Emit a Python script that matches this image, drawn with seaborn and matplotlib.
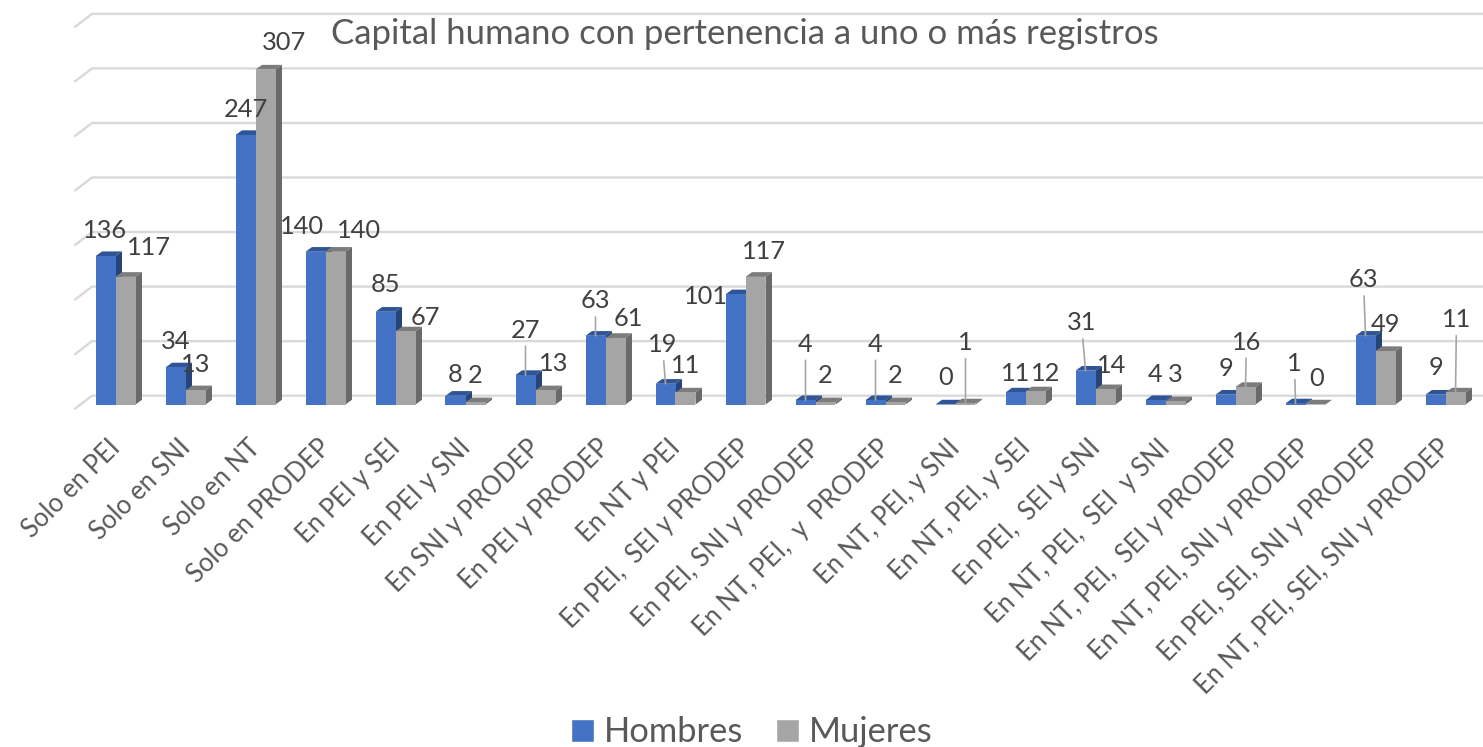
import pandas as pd
import matplotlib
matplotlib.use('Agg')
import matplotlib.pyplot as plt
from matplotlib.transforms import ScaledTranslation
import seaborn as sns

categorias = ['Solo en PEI', 'Solo en SNI', 'Solo en NT', 'Solo en PRODEP', 'En PEI y SEI', 'En PEI y SNI',
              'En SNI y PRODEP', 'En PEI y PRODEP', 'En NT y PEI', 'En PEI,  SEI y PRODEP', 'En PEI, SNI y PRODEP',
              'En NT, PEI,  y  PRODEP', 'En NT, PEI, y SNI', 'En NT, PEI, y SEI', 'En PEI,  SEI y SNI',
              'En NT, PEI,  SEI  y SNI', 'En NT, PEI,  SEI y PRODEP', 'En NT, PEI, SNI y PRODEP',
              'En PEI, SEI, SNI y PRODEP', 'En NT, PEI, SEI, SNI y PRODEP']
hombres = [136, 34, 247, 140, 85, 8, 27, 63, 19, 101, 4, 4, 0, 11, 31, 4, 9, 1, 63, 9]
mujeres = [117, 13, 307, 140, 67, 2, 13, 61, 11, 117, 2, 2, 1, 12, 14, 3, 16, 0, 49, 11]
marcas_y = [0, 50, 100, 150, 200, 250, 300, 350]

# desplazamiento de cada etiqueta respecto a la barra, en pixeles
offs_h = [(0, 28), (0, 28), (0, 28), (-13, 27), (0, 29), (0, 23), (0, 47), (0, 37), (-3, 41), (-30, 0),
          (0, 58), (0, 58), (0, 29), (0, 21), (-4, 50), (0, 28), (0, 28), (-1, 42), (-2, 58), (0, 29)]
offs_m = [(23, 31), (0, 28), (18, 29), (24, 23), (20, 16), (0, 29), (8, 29), (13, 21), (0, 29), (8, 27),
          (0, 29), (0, 29), (0, 63), (10, 20), (6, 26), (0, 29), (1, 47), (1, 28), (0, 29), (1, 75)]
# etiquetas que llevan linea guia
guias_h = [6, 7, 8, 10, 11, 14, 17, 18]
guias_m = [12, 16, 19]

W, H = 1483, 747
PX_X = 70.0      # pixeles entre categorias
PX_Y = 1.091     # pixeles por unidad
BASE = 404.5
IZQ = 75

sns.set_style('white')
plt.rcParams['font.family'] = ['Lato', 'DejaVu Sans']

df = pd.DataFrame({'categoria': categorias * 2,
                   'valor': hombres + mujeres,
                   'sexo': ['Hombres'] * len(hombres) + ['Mujeres'] * len(mujeres)})

fig = plt.figure(figsize=(W / 100, H / 100), dpi=100)
ax = fig.add_axes([IZQ / W, (H - BASE) / H, (W - IZQ) / W, BASE / H])

sns.barplot(data=df, x='categoria', y='valor', hue='sexo', palette=['#4472C4', '#A5A5A5'],
            width=40 / PX_X, gap=0, dodge=True, saturation=1, errorbar=None, ax=ax)

ax.set_xlim((IZQ - 115.5) / PX_X, (W - 115.5) / PX_X)
ax.set_ylim(0, BASE / PX_Y)
sns.despine(ax=ax, left=True, bottom=True)

# lineas de la pared del fondo
fondo_y = 8.8 / PX_Y
for v in marcas_y:
    x0 = (92 - 115.5) / PX_X
    ax.plot([(IZQ - 115.5) / PX_X, x0, ax.get_xlim()[1]],
            [v + fondo_y - 13 / PX_Y, v + fondo_y, v + fondo_y],
            color='#d9d9d9', lw=1.7, zorder=1, clip_on=False, solid_joinstyle='miter')

# caras superior y lateral de las barras
dx = 6.5 / PX_X
dy = 4.7 / PX_Y
estilos = [('#2F5597', '#264478', 3, 4), ('#7C7C7C', '#6A6A6A', 3.5, 5)]
for cont, (c_top, c_side, z, z_frente) in zip(ax.containers, estilos):
    for bar in cont:
        x0 = bar.get_x()
        x1 = x0 + bar.get_width()
        h = bar.get_height()
        bar.set_zorder(z_frente)
        bar.set_linewidth(0)
        ax.fill([x0, x1, x1 + dx, x0 + dx], [h, h, h + dy, h + dy], color=c_top, lw=0, zorder=z)
        ax.fill([x1, x1 + dx, x1 + dx, x1], [0, dy, h + dy, h], color=c_side, lw=0, zorder=z)

# etiquetas de datos
for cont, vals, offs, guias in zip(ax.containers, [hombres, mujeres], [offs_h, offs_m], [guias_h, guias_m]):
    for i, (bar, v, (ox, oy)) in enumerate(zip(cont, vals, offs)):
        props = None
        if i in guias:
            props = dict(arrowstyle='-', color='#a6a6a6', lw=1.2, shrinkA=1, shrinkB=0)
        ax.annotate(str(v), xy=(bar.get_x() + bar.get_width() / 2, v), xytext=(ox, oy - 2), textcoords='offset pixels',
                    ha='center', va='center', fontsize=18.3, color='#404040', zorder=10,
                    annotation_clip=False, arrowprops=props)

ax.set_xlabel('')
ax.set_ylabel('')
ax.set_yticks([])
ax.tick_params(axis='x', length=0, pad=22)
ax.set_xticks(range(len(categorias)))
ax.set_xticklabels(categorias, rotation=45, ha='right', va='top', rotation_mode='anchor',
                   fontsize=18.4, color='#595959')
for lab in ax.get_xticklabels():
    lab.set_transform(lab.get_transform() + ScaledTranslation(-8 / 100, 0, fig.dpi_scale_trans))

fig.text(745 / W, 1 - 34 / H, 'Capital humano con pertenencia a uno o más registros',
         ha='center', va='center', fontsize=25, color='#595959')

ax.legend(loc='center', bbox_to_anchor=(752 / W, 1 - 732.5 / H), bbox_transform=fig.transFigure, ncol=2,
          frameon=False, fontsize=24.8, handlelength=0.65, handleheight=0.65, handletextpad=0.3,
          columnspacing=0.95, labelcolor='#595959')

fig.savefig('out.png', dpi=100)
